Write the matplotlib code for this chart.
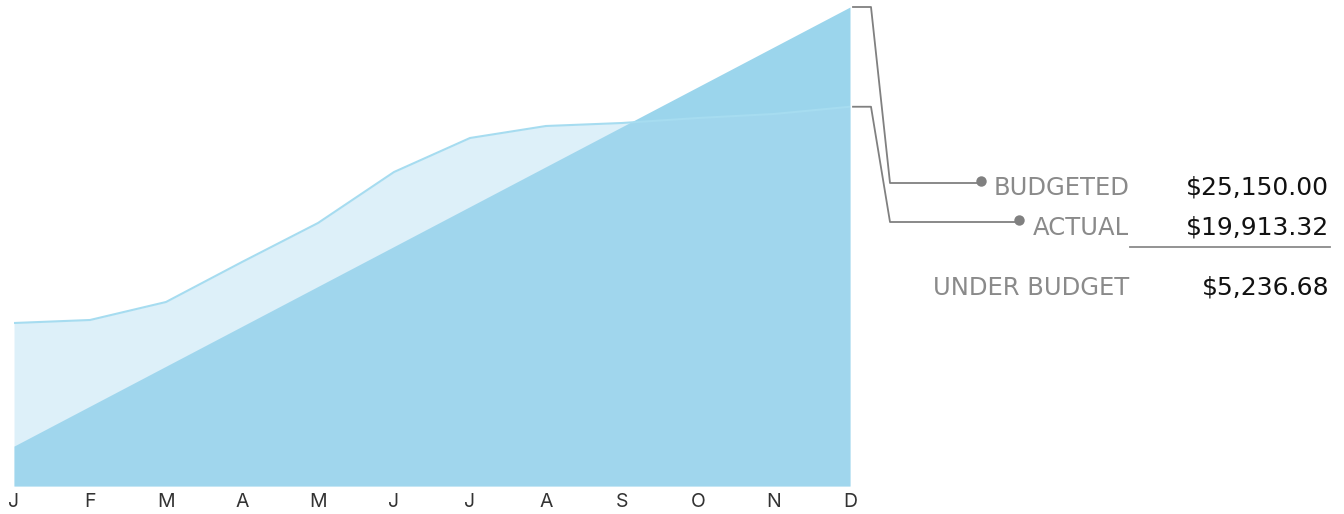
import matplotlib
matplotlib.use("Agg")
import matplotlib.pyplot as plt
from matplotlib.lines import Line2D

months = ["J", "F", "M", "A", "M", "J", "J", "A", "S", "O", "N", "D"]
budgeted = [2096, 4192, 6288, 8383, 10479, 12575, 14671, 16767, 18863, 20958, 23054, 25150]
actual = [8558, 8716, 9661, 11761, 13809, 16486, 18272, 18902, 19059, 19322, 19532, 19913.32]
summary_labels = ["BUDGETED", "ACTUAL", "UNDER BUDGET"]
summary_values = ["$25,150.00", "$19,913.32", "$5,236.68"]

plt.rcParams['font.family'] = ['Inter', 'DejaVu Sans']

W, H = 1344, 514
fig = plt.figure(figsize=(W / 100, H / 100), dpi=100)

def fx(x):
    return x / W

def fy(y):
    return 1 - y / H

ax = fig.add_axes([fx(14), fy(486), fx(850) - fx(14), fy(7) - fy(486)])
x = list(range(len(months)))
ax.fill_between(x, 0, budgeted, color="#9BD5EC", lw=0)
ax.fill_between(x, 0, actual, color="#AADAF1", alpha=0.4, lw=0)
ax.plot(x, actual, color="#A6DCF0", lw=1.5)
ax.set_xlim(0, len(months) - 1)
ax.set_ylim(0, max(budgeted))
ax.set_xticks(x)
ax.set_xticklabels(months, fontsize=14, color="#333333")
ax.tick_params(axis="x", length=0, pad=5)
ax.set_yticks([])
for s in ax.spines.values():
    s.set_visible(False)

fig.canvas.draw()
inv = fig.transFigure.inverted()

def end_y(val):
    p = ax.transData.transform((len(months) - 1, val))
    return inv.transform(p)[1]

gray = "#808080"
conn = [
    (end_y(budgeted[-1]), fy(183), fx(981), fy(181)),
    (end_y(actual[-1]), fy(222), fx(1019), fy(220)),
]
for y0, y1, xd, yd in conn:
    fig.add_artist(Line2D([fx(853), fx(871), fx(890), xd],
                          [y0, y0, y1, y1], color=gray, lw=1.3,
                          transform=fig.transFigure))
    fig.add_artist(Line2D([xd], [yd], marker="o", ms=7.5, color=gray,
                          mec="none", transform=fig.transFigure))

baselines = [195, 235, 295]
for lab, val, b in zip(summary_labels, summary_values, baselines):
    fig.text(fx(1129), fy(b), lab, ha="right", va="baseline",
             fontsize=17.5, color="#8A8A8A", family="DejaVu Sans")
    fig.text(fx(1329), fy(b), val, ha="right", va="baseline",
             fontsize=18, color="#111111", family="DejaVu Sans")

fig.add_artist(Line2D([fx(1130), fx(1330)], [fy(247), fy(247)],
                      color="#8A8A8A", lw=1.3, transform=fig.transFigure))

fig.savefig("out.png", dpi=100)
